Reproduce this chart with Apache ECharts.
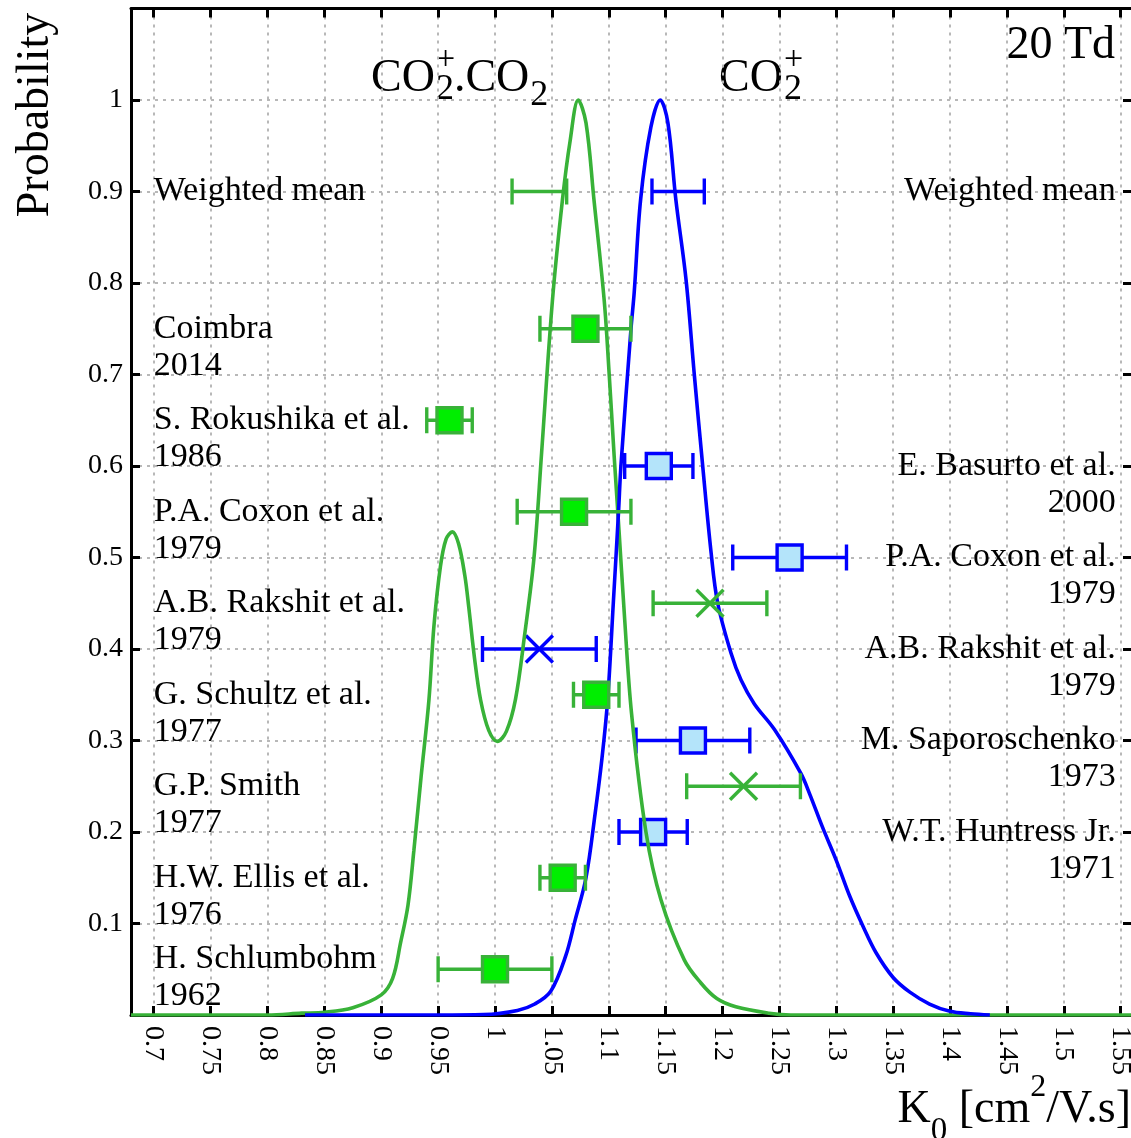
<!DOCTYPE html>
<html><head><meta charset="utf-8">
<script src="https://cdn.jsdelivr.net/npm/echarts@6/dist/echarts.min.js"></script>
<style>html,body{margin:0;padding:0;background:#fff}#c{width:1131px;height:1138px}</style>
</head><body><div id="c"></div>
<script>
// ---------- data ----------
const xTicks = [0.7,0.75,0.8,0.85,0.9,0.95,1.0,1.05,1.1,1.15,1.2,1.25,1.3,1.35,1.4,1.45,1.5,1.55];
const xTickLabels = ['0.7','0.75','0.8','0.85','0.9','0.95','1','1.05','1.1','1.15','1.2','1.25','1.3','1.35','1.4','1.45','1.5','1.55'];
const yTicks = [0.1,0.2,0.3,0.4,0.5,0.6,0.7,0.8,0.9,1.0];
const yTickLabels = ['0.1','0.2','0.3','0.4','0.5','0.6','0.7','0.8','0.9','1'];

// CO2+.CO2 probability curve (green)
const greenCurveK = [0.68,0.80,0.83,0.85,0.875,0.90,0.91,0.917,0.9235,0.9287,0.935,0.9419,0.9463,0.952,0.957,0.9625,0.968,0.9735,0.977,0.982,0.9874,0.9945,1.002,1.010,1.018,1.026,1.0343,1.041,1.0505,1.0593,1.066,1.0732,1.080,1.087,1.096,1.1004,1.1048,1.109,1.1136,1.12,1.1327,1.1459,1.1665,1.181,1.195,1.2117,1.241,1.26,1.56];
const greenCurveP = [0,0,0.002,0.003,0.008,0.022,0.04,0.079,0.12,0.18,0.26,0.344,0.425,0.49,0.52,0.528,0.515,0.48,0.445,0.39,0.344,0.311,0.299,0.31,0.345,0.415,0.5,0.615,0.781,0.891,0.955,1.0,0.975,0.891,0.781,0.70,0.61,0.53,0.44,0.33,0.2,0.126,0.06,0.035,0.018,0.009,0.002,0,0];

// CO2+ probability curve (blue)
const blueCurveK = [0.833,0.95,0.99,1.0197,1.035,1.049,1.062,1.0705,1.08,1.088,1.094,1.099,1.104,1.1086,1.1107,1.1195,1.1224,1.128,1.137,1.1453,1.152,1.159,1.168,1.1752,1.1826,1.19,1.1958,1.2076,1.2163,1.228,1.2457,1.2689,1.2765,1.288,1.30,1.3118,1.3235,1.335,1.35,1.3647,1.382,1.40,1.418,1.435];
const blueCurveP = [0,0,0.0005,0.005,0.012,0.026,0.064,0.104,0.15,0.22,0.28,0.344,0.45,0.55,0.6,0.749,0.79,0.891,0.97,1.0,0.975,0.891,0.803,0.70,0.60,0.505,0.45,0.395,0.366,0.34,0.312,0.264,0.242,0.205,0.169,0.13,0.097,0.068,0.041,0.025,0.012,0.004,0.0013,0];

// measurements (green = CO2+.CO2, blue = CO2+)
const greenK   = [1.039, 1.0795, 0.960, 1.0695, 1.189, 1.089, 1.2185, 1.0595, 1.000];
const greenErr = [0.024, 0.040, 0.020, 0.050, 0.050, 0.020, 0.050, 0.020, 0.050];
const greenY   = [0.9, 0.75, 0.65, 0.55, 0.45, 0.35, 0.25, 0.15, 0.05];
const greenMarker = ['none','square','square','square','cross','square','cross','square','square'];

const blueK   = [1.161, 1.144, 1.259, 1.039, 1.174, 1.139];
const blueErr = [0.023, 0.030, 0.050, 0.050, 0.050, 0.030];
const blueY   = [0.9, 0.6, 0.5, 0.4, 0.3, 0.2];
const blueMarker = ['none','square','square','cross','square','square'];

const leftNames = ['Weighted mean','Coimbra','S. Rokushika et al.','P.A. Coxon et al.','A.B. Rakshit et al.','G. Schultz et al.','G.P. Smith','H.W. Ellis et al.','H. Schlumbohm'];
const leftYears = ['','2014','1986','1979','1979','1977','1977','1976','1962'];
const leftLabelY = [0.9, 0.75, 0.65, 0.55, 0.45, 0.35, 0.25, 0.15, 0.061];

const rightNames = ['Weighted mean','E. Basurto et al.','P.A. Coxon et al.','A.B. Rakshit et al.','M. Saporoschenko','W.T. Huntress Jr.'];
const rightYears = ['','2000','1979','1979','1973','1971'];
const rightLabelY = [0.9, 0.6, 0.5, 0.4, 0.3, 0.2];

// ---------- styles ----------
const SERIF = '"Liberation Serif", "Times New Roman", serif';
const GREEN = '#38b238', GREEN_FILL = '#00ee00';
const BLUE = '#0000ff', BLUE_FILL = '#b4e4fa';
const LBL = 34, LH = 37;

const chart = echarts.init(document.getElementById('c'), null, {renderer: 'canvas'});

function pointsSeries(k, err, y, mk, stroke, fill, z) {
  return {
    type: 'custom', z: z, silent: true,
    data: k.map((v, i) => [v, y[i], err[i]]),
    encode: {x: 0, y: 1},
    renderItem(params, api) {
      const x = api.value(0), yy = api.value(1), e = api.value(2);
      const p = api.coord([x, yy]);
      const pl = api.coord([x - e, yy]), pr = api.coord([x + e, yy]);
      const cap = 13, ls = {stroke: stroke, lineWidth: 3.4};
      const ch = [
        {type: 'line', shape: {x1: pl[0], y1: p[1], x2: pr[0], y2: p[1]}, style: ls},
        {type: 'line', shape: {x1: pl[0], y1: p[1] - cap, x2: pl[0], y2: p[1] + cap}, style: ls},
        {type: 'line', shape: {x1: pr[0], y1: p[1] - cap, x2: pr[0], y2: p[1] + cap}, style: ls}
      ];
      const m = mk[params.dataIndex];
      if (m === 'square') {
        ch.push({type: 'rect', shape: {x: p[0] - 12.5, y: p[1] - 12.5, width: 25, height: 25}, style: {fill: fill, stroke: stroke, lineWidth: 3.4}});
      } else if (m === 'cross') {
        const h = 13.5;
        ch.push({type: 'line', shape: {x1: p[0] - h, y1: p[1] - h, x2: p[0] + h, y2: p[1] + h}, style: ls});
        ch.push({type: 'line', shape: {x1: p[0] - h, y1: p[1] + h, x2: p[0] + h, y2: p[1] - h}, style: ls});
      }
      return {type: 'group', children: ch};
    }
  };
}

function textSeries(names, years, ys, xv, align, dx) {
  return {
    type: 'custom', z: 6, silent: true,
    data: ys.map(v => [xv, v]),
    encode: {x: 0, y: 1},
    renderItem(params, api) {
      const p = api.coord([api.value(0), api.value(1)]);
      const i = params.dataIndex;
      const t = years[i] ? names[i] + '\n' + years[i] : names[i];
      return {type: 'text', x: p[0] + dx, y: p[1] - LH / 2,
        style: {text: t, fontFamily: SERIF, fontSize: LBL, fill: '#000', align: align, verticalAlign: 'top', lineHeight: LH}};
    }
  };
}

function curve(k, p, color, z) {
  return {type: 'line', z: z, data: k.map((v, i) => [v, p[i]]), showSymbol: false, symbol: 'none',
    smooth: 0.35, silent: true, lineStyle: {color: color, width: 3.6}};
}

// rich title helpers (pixel layout of text only)
const mctx = document.createElement('canvas').getContext('2d');
function tw(t, s) { mctx.font = s + 'px ' + SERIF; return mctx.measureText(t).width; }
function frag(t, s, x, base) {
  return {type: 'text', x: x, y: base - 0.31 * s, silent: true,
    style: {text: t, fontFamily: SERIF, fontSize: s, fill: '#000', align: 'left', verticalAlign: 'middle'}};
}
const graphics = [];
// CO2+.CO2
(function () {
  let x = 371;
  graphics.push(frag('CO', 46, x, 93)); x += tw('CO', 46) + 1;
  graphics.push(frag('2', 36, x, 101)); graphics.push(frag('+', 34, x, 71)); x += tw('2', 36);
  graphics.push(frag('.CO', 46, x, 93)); x += tw('.CO', 46) + 1;
  graphics.push(frag('2', 36, x, 107));
})();
// CO2+
(function () {
  let x = 719;
  graphics.push(frag('CO', 46, x, 93)); x += tw('CO', 46) + 1;
  graphics.push(frag('2', 36, x, 101)); graphics.push(frag('+', 34, x, 71));
})();
// 20 Td
graphics.push({type: 'text', x: 1115, y: 60 - 0.31 * 46, silent: true,
  style: {text: '20 Td', fontFamily: SERIF, fontSize: 46, fill: '#000', align: 'right', verticalAlign: 'middle'}});
// Probability
graphics.push({type: 'text', x: 36, y: 115, rotation: Math.PI / 2, silent: true,
  style: {text: 'Probability', fontFamily: SERIF, fontSize: 46, fill: '#000', align: 'center', verticalAlign: 'middle'}});
// K0 [cm2/V.s]
(function () {
  const parts = [['K', 46, 1124], ['0', 33, 1142], [' [cm', 46, 1124], ['2', 32, 1098], ['/V.s]', 46, 1124]];
  let total = 0; parts.forEach(q => total += tw(q[0], q[1]));
  let x = 1131 - total;
  parts.forEach(q => { graphics.push(frag(q[0], q[1], x, q[2])); x += tw(q[0], q[1]); });
})();

const axisLineStyle = {color: '#000', width: 3};
const tickStyle = {color: '#000', width: 3};
const gridLine = {show: true, lineStyle: {type: [3, 5], width: 2, color: '#b8b8b8'}};

const option = {
  animation: false,
  backgroundColor: '#ffffff',
  grid: {left: 131, right: -1, top: 8.5, bottom: 123, containLabel: false, outerBoundsMode: 'none'},
  xAxis: [
    {type: 'value', min: 0.68, max: 1.56, position: 'bottom',
      axisLine: {show: true, onZero: false, lineStyle: axisLineStyle},
      axisTick: {show: true, inside: true, length: 9, lineStyle: tickStyle, customValues: xTicks},
      axisLabel: {show: true, customValues: xTicks, rotate: -90, margin: 11, fontFamily: SERIF, fontSize: 28, color: '#000',
        formatter: v => { const i = xTicks.findIndex(t => Math.abs(t - v) < 1e-6); return i >= 0 ? xTickLabels[i] : ''; }},
      splitLine: gridLine},
    {type: 'value', min: 0.68, max: 1.56, position: 'top',
      axisLine: {show: true, onZero: false, lineStyle: axisLineStyle},
      axisTick: {show: true, inside: true, length: 9, lineStyle: tickStyle, customValues: xTicks},
      axisLabel: {show: false}, splitLine: {show: false}}
  ],
  yAxis: [
    {type: 'value', min: 0, max: 1.1, interval: 0.1, position: 'left',
      axisLine: {show: true, onZero: false, lineStyle: axisLineStyle},
      axisTick: {show: true, inside: true, length: 9, lineStyle: tickStyle},
      axisLabel: {show: true, margin: 8, fontFamily: SERIF, fontSize: 28, color: '#000',
        formatter: v => { const i = yTicks.findIndex(t => Math.abs(t - v) < 1e-6); return i >= 0 ? yTickLabels[i] : ''; }},
      splitLine: gridLine},
    {type: 'value', min: 0, max: 1.1, interval: 0.1, position: 'right',
      axisLine: {show: true, onZero: false, lineStyle: axisLineStyle},
      axisTick: {show: true, inside: true, length: 9, lineStyle: tickStyle},
      axisLabel: {show: false}, splitLine: {show: false}}
  ],
  graphic: graphics,
  series: [
    pointsSeries(blueK, blueErr, blueY, blueMarker, BLUE, BLUE_FILL, 3),
    curve(greenCurveK, greenCurveP, GREEN, 4),
    curve(blueCurveK, blueCurveP, BLUE, 5),
    pointsSeries(greenK, greenErr, greenY, greenMarker, GREEN, GREEN_FILL, 6),
    textSeries(leftNames, leftYears, leftLabelY, 0.7, 'left', 0),
    textSeries(rightNames, rightYears, rightLabelY, 1.55, 'right', -5)
  ]
};
chart.setOption(option);
</script>
</body></html>
